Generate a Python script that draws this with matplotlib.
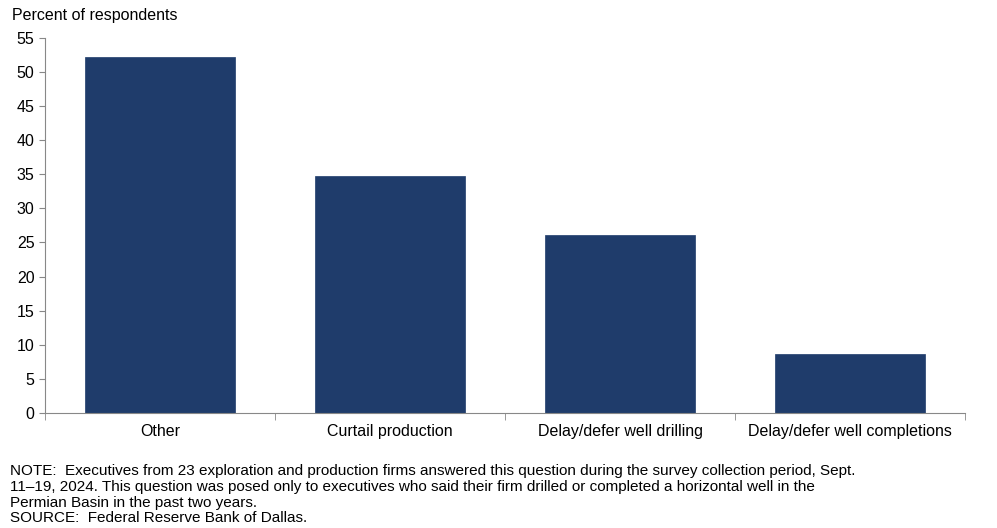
import matplotlib
matplotlib.use("Agg")
import matplotlib.pyplot as plt
import numpy as np

plt.rcParams["font.family"] = "Liberation Sans"

categories = ["Other", "Curtail production", "Delay/defer well drilling", "Delay/defer well completions"]
values = [52.2, 34.8, 26.1, 8.7]
yticks = list(range(0, 60, 5))

fig = plt.figure(figsize=(9.97, 5.28), dpi=100)
ax = fig.add_axes([0.045, 0.218, 0.923, 0.71])

x = np.arange(len(categories))
ax.bar(x, values, width=0.65, color="#1f3c6b", edgecolor="#1f3c6b", linewidth=0.5)

ax.set_xlim(-0.5, len(categories) - 0.5)
ax.set_ylim(0, 55)
ax.set_yticks(yticks)
ax.set_xticks(x)
ax.set_xticklabels(categories, fontsize=11.5)
ax.set_xticks(np.arange(-0.5, len(categories)), minor=True)
ax.tick_params(axis="x", which="major", length=0, pad=8)
ax.tick_params(axis="x", which="minor", length=5, direction="out", color="#888888")
ax.tick_params(axis="y", labelsize=11.5, length=4, direction="out", color="#888888")
for s in ["top", "right"]:
    ax.spines[s].set_visible(False)
ax.spines["left"].set_color("#888888")
ax.spines["bottom"].set_color("#888888")

fig.text(0.012, 0.962, "Percent of respondents", fontsize=11.5)
note = ("NOTE:  Executives from 23 exploration and production firms answered this question during the survey collection period, Sept.\n"
        "11\u201319, 2024. This question was posed only to executives who said their firm drilled or completed a horizontal well in the\n"
        "Permian Basin in the past two years.\n"
        "SOURCE:  Federal Reserve Bank of Dallas.")
fig.text(0.01, 0.005, note, fontsize=11, linespacing=1.15, va="bottom")

fig.savefig("out.png", dpi=100)
